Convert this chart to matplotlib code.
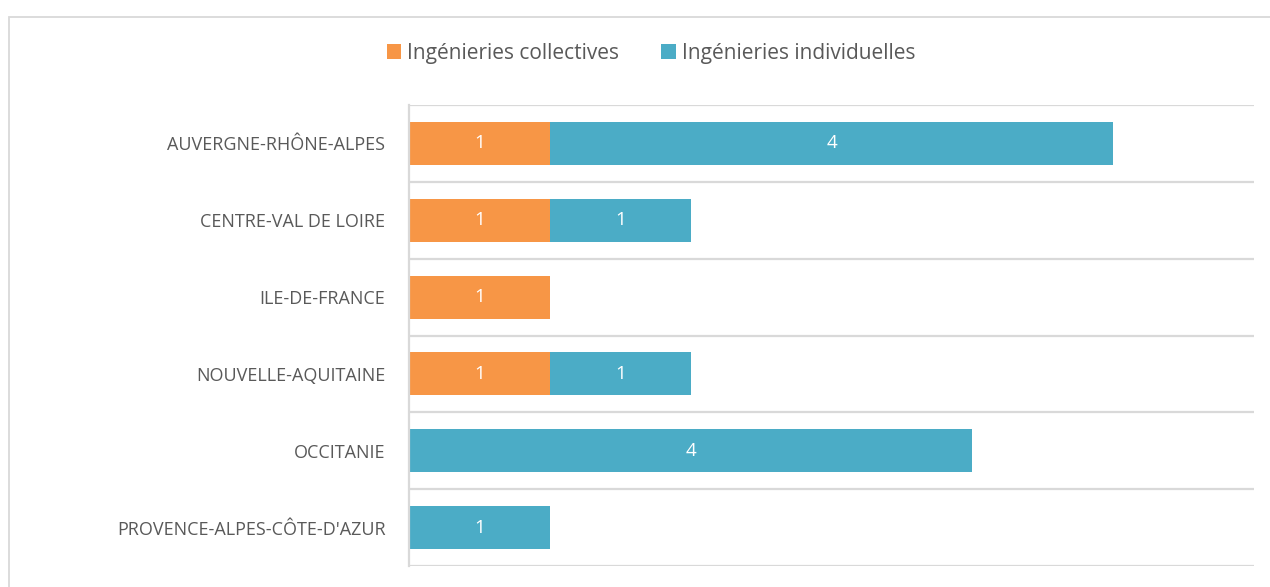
import matplotlib
matplotlib.use("Agg")
import matplotlib.pyplot as plt
from matplotlib.patches import Rectangle
import numpy as np

categories = ["AUVERGNE-RHÔNE-ALPES", "CENTRE-VAL DE LOIRE", "ILE-DE-FRANCE",
              "NOUVELLE-AQUITAINE", "OCCITANIE", "PROVENCE-ALPES-CÔTE-D'AZUR"]
collectives = [1, 1, 1, 1, 0, 0]
individuelles = [4, 1, 0, 1, 4, 1]
series_names = ["Ingénieries collectives", "Ingénieries individuelles"]
colors = ["#F79646", "#4BACC6"]

plt.rcParams['font.family'] = ['Open Sans', 'DejaVu Sans']

W, H = 1270, 587
fig = plt.figure(figsize=(W / 100, H / 100), dpi=100)
fig.patch.set_facecolor("white")

# outer frame
fig.add_artist(Rectangle((9 / W, -0.01), 1.05, 1 - 17 / H + 0.01, transform=fig.transFigure,
                         fill=False, edgecolor="#d9d9d9", linewidth=1.3))

left, right, top, bottom = 409, 1254, 105, 566
ax = fig.add_axes([left / W, 1 - bottom / H, (right - left) / W, (bottom - top) / H])

y = np.arange(len(categories))
h = 0.56
b1 = ax.barh(y, collectives, height=h, color=colors[0], label=series_names[0])
b2 = ax.barh(y, individuelles, height=h, left=collectives, color=colors[1], label=series_names[1])

for bars, vals in ((b1, collectives), (b2, individuelles)):
    for bar, v in zip(bars, vals):
        if v > 0:
            ax.text(bar.get_x() + bar.get_width() / 2, bar.get_y() + bar.get_height() / 2,
                    f"{v}", ha="center", va="center", color="white", fontsize=13.5)

ax.set_xlim(0, 6)
ax.set_ylim(len(categories) - 0.5, -0.5)
ax.set_yticks(y)
ax.set_yticklabels(categories, fontsize=13, color="#595959")
ax.tick_params(axis="y", length=0, pad=17)
ax.set_xticks([])

# horizontal separators between categories
for b in np.arange(-0.5, len(categories), 1.0):
    ax.axhline(b, color="#d9d9d9", linewidth=1.6, zorder=0)

for s in ["top", "right", "bottom"]:
    ax.spines[s].set_visible(False)
ax.spines["left"].set_color("#d9d9d9")
ax.spines["left"].set_linewidth(1.6)

leg = fig.legend(handles=[b1, b2], labels=series_names, loc="center",
                 bbox_to_anchor=(651 / W, 1 - 53 / H), ncol=2, frameon=False,
                 fontsize=15, handlelength=0.7, handleheight=0.7, handletextpad=0.3,
                 columnspacing=2.0)
for t in leg.get_texts():
    t.set_color("#595959")

fig.savefig("out.png", dpi=100, facecolor="white")
